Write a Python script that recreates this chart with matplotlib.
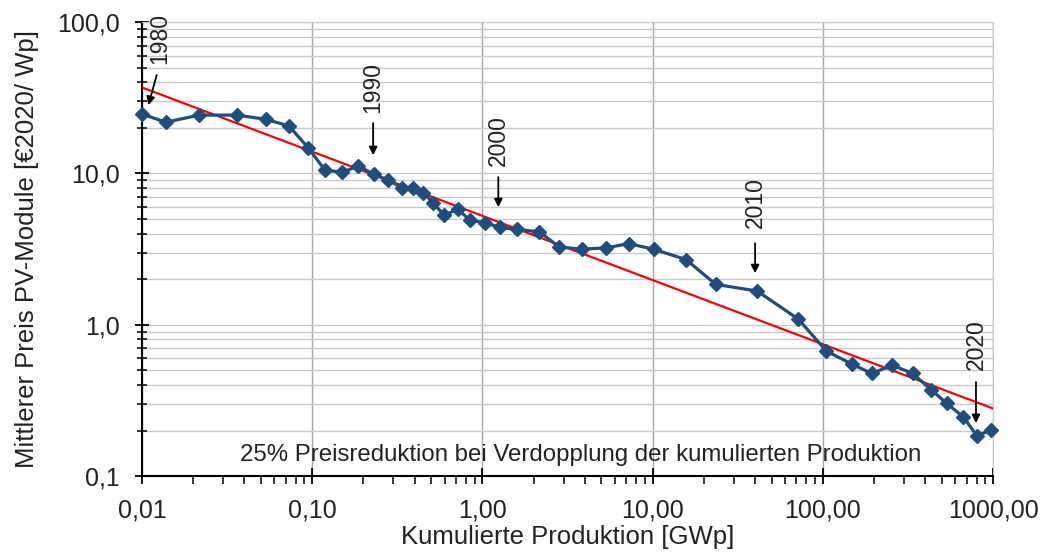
import numpy as np
import matplotlib
matplotlib.use('Agg')
import matplotlib.pyplot as plt
from matplotlib.ticker import FixedLocator, LogLocator, NullFormatter

plt.rcParams['font.family'] = ['Liberation Sans', 'DejaVu Sans']

# cumulative production [GWp] and module price [EUR2020/Wp]
prod = [0.0100, 0.0138, 0.0216, 0.0361, 0.0533, 0.0731, 0.0945, 0.119, 0.150, 0.187,
        0.231, 0.280, 0.336, 0.393, 0.450, 0.515, 0.597, 0.716, 0.845, 1.036,
        1.27, 1.60, 2.16, 2.83, 3.83, 5.30, 7.24, 10.2, 15.7, 23.5,
        41.2, 71.8, 105, 148, 194, 256, 337, 432, 535, 670,
        802, 973]
price = [24.7, 21.8, 24.3, 24.3, 22.8, 20.6, 14.8, 10.5, 10.2, 11.2,
         9.85, 9.04, 8.04, 7.96, 7.48, 6.34, 5.30, 5.81, 4.91, 4.72,
         4.40, 4.27, 4.11, 3.27, 3.16, 3.22, 3.44, 3.15, 2.70, 1.85,
         1.67, 1.09, 0.670, 0.550, 0.477, 0.541, 0.477, 0.373, 0.302, 0.246,
         0.185, 0.201]

# learning curve (25 % per doubling), end points
trend_x = [0.01, 1000]
trend_y = [37.0, 0.28]

# year annotations: label, arrow tip, arrow tail, text centre (data coords)
years = ['1980', '1990', '2000', '2010', '2020']
tip_xy = [(0.0109, 28.3), (0.228, 13.2), (1.24, 5.98), (40.0, 2.19), (794, 0.224)]
tail_xy = [(0.0122, 44.7), (0.228, 21.5), (1.24, 9.46), (40.0, 3.46), (794, 0.418)]
text_xy = [(0.01276, 78.0), (0.228, 37.2), (1.24, 16.6), (40.0, 6.46), (794, 0.745)]

xticks = [0.01, 0.1, 1, 10, 100, 1000]
xticklabels = ['0,01', '0,10', '1,00', '10,00', '100,00', '1000,00']
yticks = [0.1, 1, 10, 100]
yticklabels = ['0,1', '1,0', '10,0', '100,0']

fig = plt.figure(figsize=(10.42, 5.53), dpi=100)
ax = fig.add_axes([0.1363, 0.139, 0.953 - 0.1363, 0.960 - 0.139])

ax.set_xscale('log')
ax.set_yscale('log')
ax.set_xlim(0.01, 1000)
ax.set_ylim(0.1, 100)

ax.plot(trend_x, trend_y, color='#ff0000', lw=1.6, zorder=3)
ax.plot(prod, price, color='#1f4e7e', lw=2.3, marker='D', ms=7.5, zorder=4,
        clip_on=False)

for lab, tip, tail, txt in zip(years, tip_xy, tail_xy, text_xy):
    ax.annotate('', xy=tip, xytext=tail,
                arrowprops=dict(arrowstyle='-|>', color='black', lw=1.3,
                                mutation_scale=12, shrinkA=0, shrinkB=0))
    ax.text(txt[0], txt[1], lab, rotation=90, ha='center', va='center',
            fontsize=16.5, color='#222222')

ax.text(0.515, 0.046, '25% Preisreduktion bei Verdopplung der kumulierten Produktion',
        transform=ax.transAxes, ha='center', va='center', fontsize=17.3,
        color='#222222')

ax.xaxis.set_major_locator(FixedLocator(xticks))
ax.set_xticklabels(xticklabels)
ax.yaxis.set_major_locator(FixedLocator(yticks))
ax.set_yticklabels(yticklabels)
ax.xaxis.set_minor_locator(LogLocator(base=10, subs=np.arange(2, 10)))
ax.yaxis.set_minor_locator(LogLocator(base=10, subs=np.arange(2, 10)))
ax.xaxis.set_minor_formatter(NullFormatter())
ax.yaxis.set_minor_formatter(NullFormatter())

ax.grid(True, which='major', axis='x', color='#a6a6a6', lw=1.0)
ax.grid(True, which='both', axis='y', color='#c8c8c8', lw=1.0)
ax.set_axisbelow(True)

for s in ['top', 'right']:
    ax.spines[s].set_color('#c8c8c8')
ax.spines['left'].set_color('black')
ax.spines['bottom'].set_color('black')
ax.spines['left'].set_linewidth(1.5)
ax.spines['bottom'].set_linewidth(1.5)

ax.tick_params(axis='both', which='major', labelsize=18, colors='black',
               labelcolor='#222222', width=1.3)
ax.tick_params(axis='y', which='both', direction='inout')
ax.tick_params(axis='y', which='major', length=10, pad=11)
ax.tick_params(axis='y', which='minor', length=7, width=1.1)
ax.tick_params(axis='x', which='major', direction='inout', length=12, pad=10)
ax.tick_params(axis='x', which='minor', direction='out', length=6, width=1.1)

ax.set_xlabel('Kumulierte Produktion [GWp]', fontsize=18.5, color='#222222',
              labelpad=2)
ax.set_ylabel('Mittlerer Preis PV-Module [€2020/ Wp]', fontsize=18.5,
              color='#222222', labelpad=13)

fig.savefig('out.png', dpi=100)
